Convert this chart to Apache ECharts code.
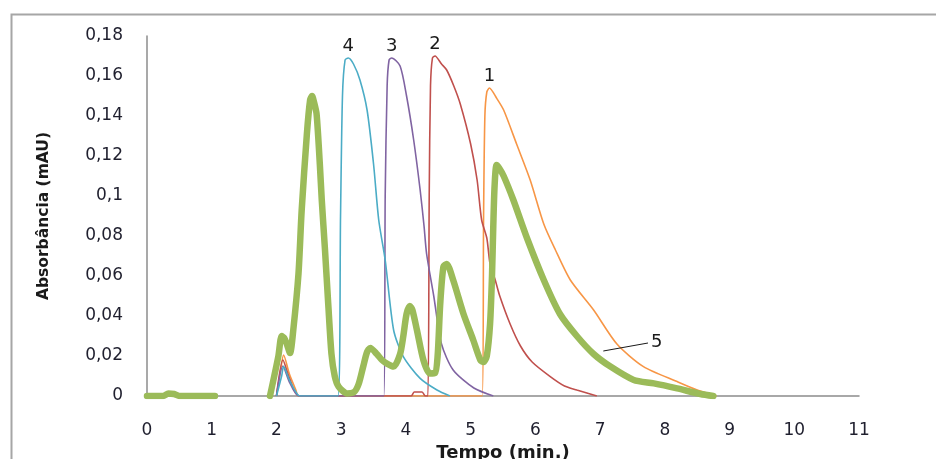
<!DOCTYPE html>
<html>
<head>
<meta charset="utf-8">
<script src="https://cdn.jsdelivr.net/npm/echarts@6/dist/echarts.min.js"></script>
<style>
  html, body { margin: 0; padding: 0; background: #fff; overflow: hidden; }
  #chart { width: 936px; height: 459px; }
</style>
</head>
<body>
<div id="chart"></div>
<script>
// Axis ticks
const xTicks = [0, 1, 2, 3, 4, 5, 6, 7, 8, 9, 10, 11];
const yTicks = [0, 0.02, 0.04, 0.06, 0.08, 0.1, 0.12, 0.14, 0.16, 0.18];

// Curve 1 (orange)
const tempo1 = [2.0, 2.06, 2.11, 2.2, 2.3, 2.34, 5.18, 5.2, 5.22, 5.25, 5.29, 5.4, 5.51, 5.71, 5.92, 6.13, 6.31, 6.54, 6.9, 7.26, 7.67, 8.19, 8.5, 8.8];
const abs1   = [0, 0.012, 0.0205, 0.011, 0.003, 0, 0, 0.09, 0.14, 0.152, 0.154, 0.149, 0.143, 0.126, 0.108, 0.086, 0.073, 0.058, 0.043, 0.026, 0.0147, 0.0072, 0.003, 0];

// Curve 2 (red)
const tempo2 = [2.0, 2.1, 2.2, 2.35, 4.08, 4.13, 4.25, 4.3, 4.34, 4.36, 4.38, 4.41, 4.45, 4.55, 4.63, 4.74, 4.84, 5.0, 5.1, 5.17, 5.25, 5.3, 5.38, 5.45, 5.61, 5.77, 5.95, 6.23, 6.45, 6.64, 6.95];
const abs2   = [0, 0.018, 0.009, 0, 0, 0.002, 0.002, 0, 0, 0.1, 0.155, 0.169, 0.17, 0.166, 0.163, 0.155, 0.146, 0.126, 0.108, 0.088, 0.079, 0.066, 0.058, 0.05, 0.036, 0.025, 0.017, 0.0097, 0.005, 0.003, 0];

// Curve 3 (purple)
const tempo3 = [2.0, 2.1, 2.2, 2.35, 3.66, 3.68, 3.71, 3.74, 3.78, 3.91, 4.01, 4.12, 4.22, 4.28, 4.32, 4.43, 4.55, 4.73, 5.05, 5.35];
const abs3   = [0, 0.015, 0.007, 0, 0, 0.1, 0.155, 0.168, 0.169, 0.165, 0.15, 0.128, 0.103, 0.085, 0.071, 0.05, 0.026, 0.013, 0.004, 0];

// Curve 4 (cyan)
const tempo4 = [2.0, 2.08, 2.11, 2.2, 2.3, 2.36, 2.95, 2.99, 3.02, 3.06, 3.11, 3.19, 3.29, 3.4, 3.5, 3.58, 3.68, 3.81, 3.96, 4.22, 4.48, 4.68];
const abs4   = [0, 0.01, 0.0147, 0.008, 0.002, 0, 0, 0.09, 0.15, 0.168, 0.169, 0.166, 0.158, 0.143, 0.116, 0.088, 0.068, 0.033, 0.0197, 0.0088, 0.003, 0];

// Curve 5 (green, sample)
const tempo5 = [0, 0.25, 0.33, 0.42, 0.5, 1.05, 1.5, 1.9, 2.03, 2.08, 2.12, 2.16, 2.21, 2.26, 2.34, 2.39, 2.47, 2.52, 2.55, 2.58, 2.62, 2.67, 2.7, 2.75, 2.8, 2.85, 2.9, 2.96, 3.09, 3.2, 3.27, 3.34, 3.4, 3.45, 3.55, 3.63, 3.7, 3.81, 3.91, 3.96, 4.01, 4.06, 4.1, 4.17, 4.27, 4.37, 4.45, 4.49, 4.53, 4.58, 4.63, 4.73, 4.89, 5.04, 5.15, 5.2, 5.25, 5.3, 5.33, 5.35, 5.37, 5.4, 5.44, 5.51, 5.66, 5.87, 6.13, 6.38, 6.64, 6.9, 7.16, 7.52, 7.83, 8.19, 8.55, 8.75];
const abs5   = [0, 0, 0.0012, 0.001, 0, 0, '-', 0, 0.02, 0.03, 0.029, 0.026, 0.0215, 0.033, 0.061, 0.093, 0.131, 0.148, 0.15, 0.147, 0.141, 0.116, 0.098, 0.073, 0.046, 0.021, 0.01, 0.0047, 0.0013, 0.002, 0.006, 0.0147, 0.022, 0.024, 0.021, 0.018, 0.0163, 0.0147, 0.021, 0.03, 0.041, 0.045, 0.043, 0.033, 0.018, 0.0113, 0.0115, 0.02, 0.046, 0.0647, 0.066, 0.058, 0.041, 0.028, 0.018, 0.017, 0.02, 0.036, 0.06, 0.085, 0.105, 0.1155, 0.114, 0.11, 0.098, 0.079, 0.058, 0.041, 0.03, 0.021, 0.0147, 0.008, 0.0063, 0.0038, 0.001, 0];

// Curve names and colours
const curveNames  = ['1', '2', '3', '4', '5'];
const curveColors = ['#f79646', '#c0504d', '#8064a2', '#4bacc6', '#9bbb59'];

// Leader line pointing at curve 5
const leader5 = [[7.05, 0.0225], [7.74, 0.0265]];

const FONT = 'DejaVu Sans, Verdana, sans-serif';

function zip(ts, vs) { return ts.map((t, i) => [t, vs[i]]); }

// Position of the highest point of a curve, used to place its number
function peakOf(ts, vs) {
  let peak = 0;
  vs.forEach((v, i) => { if (typeof v === 'number' && v > vs[peak]) peak = i; });
  return [ts[peak], vs[peak]];
}

function thinSeries(idx, ts, vs) {
  return {
    type: 'line', name: curveNames[idx], showSymbol: false, symbol: 'none',
    animation: false, z: 2, smooth: 0.25,
    lineStyle: { color: curveColors[idx], width: 1.6 },
    data: zip(ts, vs),
    markPoint: {
      silent: true, animation: false, symbol: 'circle', symbolSize: 1,
      itemStyle: { color: 'rgba(0,0,0,0)' },
      label: {
        show: true, position: 'top', distance: 2, formatter: curveNames[idx],
        color: '#1a1a1a', fontSize: 18, fontFamily: FONT
      },
      data: [{ coord: peakOf(ts, vs) }]
    }
  };
}

const chart = echarts.init(document.getElementById('chart'), null, { renderer: 'canvas' });

chart.setOption({
  backgroundColor: '#ffffff',
  animation: false,
  graphic: [{
    type: 'rect', left: 9, top: 12, z: -1, silent: true,
    shape: { width: 960, height: 480 },
    style: { fill: 'none', stroke: '#a6a6a6', lineWidth: 2 }
  }],
  grid: {
    left: 147, right: 77, top: 36, bottom: 63,
    containLabel: false, outerBoundsMode: 'none'
  },
  xAxis: {
    type: 'value', min: 0, max: 11, interval: 1,
    name: 'Tempo (min.)', nameLocation: 'middle', nameGap: 44,
    nameTextStyle: { fontFamily: FONT, fontWeight: 'bold', fontSize: 18, color: '#1a1a1a' },
    axisLine: { show: true, lineStyle: { color: '#8c8c8c', width: 1.5 } },
    axisTick: { show: false },
    splitLine: { show: false },
    axisLabel: {
      margin: 26, fontFamily: FONT, fontSize: 17, color: '#1f1f2e',
      formatter: v => xTicks.includes(v) ? String(v) : ''
    }
  },
  yAxis: {
    type: 'value', min: 0, max: 0.18, interval: 0.02,
    name: 'Absorbância (mAU)', nameLocation: 'middle', nameGap: 95, nameRotate: 90,
    nameTextStyle: { fontFamily: FONT, fontWeight: 'bold', fontSize: 15.5, color: '#1a1a1a' },
    axisLine: { show: true, lineStyle: { color: '#8c8c8c', width: 1.5 } },
    axisTick: { show: false },
    splitLine: { show: false },
    axisLabel: {
      margin: 24, fontFamily: FONT, fontSize: 17, color: '#1f1f2e',
      formatter: v => {
        const t = yTicks.find(k => Math.abs(k - v) < 1e-9);
        return t === undefined ? '' : String(+t.toFixed(2)).replace('.', ',');
      }
    }
  },
  series: [
    thinSeries(0, tempo1, abs1),
    thinSeries(1, tempo2, abs2),
    thinSeries(2, tempo3, abs3),
    thinSeries(3, tempo4, abs4),
    {
      type: 'line', name: curveNames[4], showSymbol: false, symbol: 'none',
      animation: false, z: 3, connectNulls: false, smooth: 0.25,
      lineStyle: { color: curveColors[4], width: 6.5, join: 'round', cap: 'round' },
      data: zip(tempo5, abs5),
      markLine: {
        silent: true, symbol: ['none', 'none'], animation: false,
        lineStyle: { color: '#1a1a1a', width: 1, type: 'solid' },
        label: {
          show: true, position: 'end', distance: 3, formatter: curveNames[4],
          color: '#1a1a1a', fontSize: 18, fontFamily: FONT
        },
        data: [[{ coord: leader5[0] }, { coord: leader5[1] }]]
      }
    }
  ]
});
</script>
</body>
</html>
